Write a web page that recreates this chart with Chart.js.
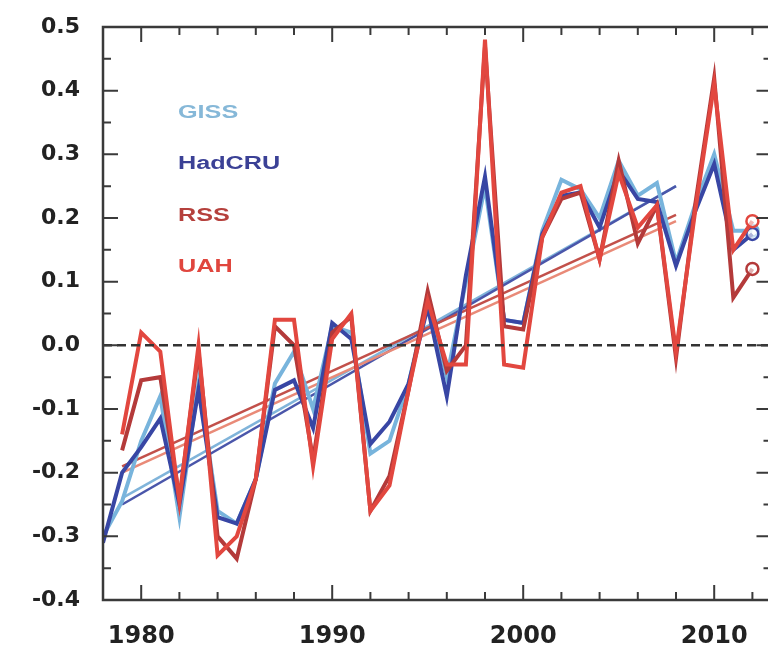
<!DOCTYPE html>
<html>
<head>
<meta charset="utf-8">
<script src="https://cdn.jsdelivr.net/npm/chart.js@4.4.0/dist/chart.umd.min.js"></script>
<style>
  html, body { margin: 0; padding: 0; background: #fff; overflow: hidden; }
  #wrap { width: 780px; height: 651px; }
</style>
</head>
<body>
<div id="wrap"><canvas id="chart"></canvas></div>
<script>
// Annual anomalies
const years = [1978, 1979, 1980, 1981, 1982, 1983, 1984, 1985, 1986, 1987, 1988, 1989,
  1990, 1991, 1992, 1993, 1994, 1995, 1996, 1997, 1998, 1999, 2000, 2001, 2002, 2003,
  2004, 2005, 2006, 2007, 2008, 2009, 2010, 2011, 2012];

const giss = [-0.30, -0.245, -0.15, -0.08, -0.27, -0.06, -0.26, -0.28, -0.21, -0.06, -0.01, -0.10,
  0.03, 0.02, -0.17, -0.15, -0.06, 0.07, -0.05, 0.10, 0.25, 0.04, 0.035, 0.18, 0.26, 0.245,
  0.20, 0.29, 0.235, 0.255, 0.13, 0.22, 0.30, 0.18, 0.18];

const hadcru = [-0.31, -0.20, -0.16, -0.115, -0.25, -0.07, -0.27, -0.28, -0.21, -0.07, -0.055, -0.13,
  0.035, 0.01, -0.155, -0.12, -0.06, 0.06, -0.08, 0.11, 0.265, 0.04, 0.035, 0.175, 0.235, 0.24,
  0.185, 0.275, 0.23, 0.225, 0.125, 0.21, 0.285, 0.15, 0.175];

const rss = [null, -0.165, -0.055, -0.05, -0.24, -0.01, -0.30, -0.335, -0.21, 0.03, 0.0, -0.18,
  0.02, 0.045, -0.26, -0.205, -0.07, 0.085, -0.04, 0.0, 0.47, 0.03, 0.025, 0.17, 0.23, 0.24,
  0.135, 0.29, 0.16, 0.22, -0.02, 0.22, 0.42, 0.075, 0.12];

const uah = [null, -0.14, 0.02, -0.01, -0.245, 0.0, -0.33, -0.30, -0.21, 0.04, 0.04, -0.19,
  0.01, 0.05, -0.26, -0.22, -0.07, 0.07, -0.03, -0.03, 0.48, -0.03, -0.035, 0.17, 0.24, 0.25,
  0.135, 0.27, 0.185, 0.22, -0.01, 0.21, 0.41, 0.15, 0.195];

// 1979-2008 trend lines (end points)
const trendYears = [1979, 2008];
const gissTrend = [-0.24, 0.25];
const hadcruTrend = [-0.25, 0.25];
const rssTrend = [-0.19, 0.205];
const uahTrend = [-0.20, 0.195];

const seriesNames = ['GISS', 'HadCRU', 'RSS', 'UAH'];
const xTickYears = [1980, 1990, 2000, 2010];
const yTickValues = [-0.4, -0.3, -0.2, -0.1, 0.0, 0.1, 0.2, 0.3, 0.4, 0.5];

const colors = {
    giss: '#78b4dc',
    hadcru: '#3846a4',
    rss: '#b43a3a',
    uah: '#e2473f'
};
const legendColors = ['#86b8d8', '#3b4196', '#b5403c', '#e0463e'];

function toPoints(xs, ys) {
    return xs.map((x, i) => ({ x: x, y: ys[i] }));
}

function series(label, values, color, order) {
    return {
        label: label,
        data: toPoints(years, values),
        borderColor: color,
        backgroundColor: color,
        borderWidth: 4,
        borderJoinStyle: 'miter',
        pointRadius: ctx => ctx.dataIndex === years.length - 1 ? 6 : 0,
        pointBorderWidth: 2.5,
        pointBorderColor: color,
        pointBackgroundColor: 'rgba(255,255,255,0.6)',
        order: order
    };
}

function trend(label, values, color, order) {
    return {
        label: label,
        data: toPoints(trendYears, values),
        borderColor: color,
        borderWidth: 2.5,
        pointRadius: 0,
        order: order
    };
}

// Frame round the plot with inward ticks on all four sides
const frameTicks = {
    id: 'frameTicks',
    afterDatasetsDraw(chart) {
        const { ctx, chartArea: a, scales: { x, y } } = chart;
        ctx.save();
        ctx.strokeStyle = '#3a3a3a';
        ctx.lineWidth = 2.5;
        ctx.strokeRect(a.left, a.top, a.right - a.left, a.bottom - a.top);
        ctx.lineWidth = 2;
        ctx.beginPath();
        for (let yr = Math.ceil(x.min); yr <= x.max; yr++) {
            if (yr % 2 !== 0) continue;
            const len = yr % 10 === 0 ? 15 : 8;
            const px = x.getPixelForValue(yr);
            ctx.moveTo(px, a.bottom); ctx.lineTo(px, a.bottom - len);
            ctx.moveTo(px, a.top); ctx.lineTo(px, a.top + len);
        }
        for (let k = 0; k <= 18; k++) {
            const v = y.min + k * 0.05;
            const len = k % 2 === 0 ? 15 : 8;
            const py = y.getPixelForValue(v);
            ctx.moveTo(a.left, py); ctx.lineTo(a.left + len, py);
            ctx.moveTo(a.right, py); ctx.lineTo(a.right - len, py);
        }
        ctx.stroke();
        ctx.restore();
    },
    afterDraw(chart) {
        // Coloured series names in the upper left
        const { ctx, chartArea: a } = chart;
        ctx.save();
        ctx.font = 'bold 18px "Liberation Sans", Arial, sans-serif';
        ctx.textBaseline = 'middle';
        seriesNames.forEach((name, i) => {
            ctx.save();
            ctx.translate(a.left + 75, a.top + 86 + i * 51.5);
            ctx.scale(1.4, 1);
            ctx.fillStyle = legendColors[i];
            ctx.fillText(name, 0, 0);
            ctx.restore();
        });
        ctx.restore();
    }
};

const ctx = document.getElementById('chart').getContext('2d');
new Chart(ctx, {
    type: 'line',
    data: {
        datasets: [
            {
                label: 'zero',
                data: [{ x: 1978, y: 0 }, { x: 2013, y: 0 }],
                borderColor: '#333',
                borderWidth: 2.5,
                borderDash: [9, 5],
                pointRadius: 0,
                order: 0
            },
            series('UAH', uah, colors.uah, 1),
            series('RSS', rss, colors.rss, 2),
            series('HadCRU', hadcru, colors.hadcru, 3),
            series('GISS', giss, colors.giss, 4),
            trend('UAH trend', uahTrend, '#e98a78', 5),
            trend('RSS trend', rssTrend, '#c2504a', 6),
            trend('HadCRU trend', hadcruTrend, '#4a56aa', 7),
            trend('GISS trend', gissTrend, '#80b4da', 8)
        ]
    },
    options: {
        responsive: true,
        maintainAspectRatio: false,
        animation: false,
        layout: { padding: { left: 32, right: 6, top: 27, bottom: 0 } },
        plugins: {
            legend: { display: false },
            tooltip: { enabled: false }
        },
        scales: {
            x: {
                type: 'linear',
                min: 1978,
                max: 2013,
                grid: { display: false, drawTicks: false },
                border: { display: false },
                afterBuildTicks: s => { s.ticks = xTickYears.map(v => ({ value: v })); },
                afterFit: s => { s.height = 51; s.paddingLeft = 0; s.paddingRight = 0; },
                ticks: {
                    padding: 22,
                    color: '#222',
                    maxRotation: 0,
                    font: { family: '"DejaVu Sans"', size: 24, weight: 'bold' },
                    callback: v => String(v)
                }
            },
            y: {
                min: -0.4,
                max: 0.5,
                grid: { display: false, drawTicks: false },
                border: { display: false },
                afterBuildTicks: s => { s.ticks = yTickValues.map(v => ({ value: v })); },
                afterFit: s => { s.width = 71; s.paddingTop = 0; s.paddingBottom = 0; },
                ticks: {
                    padding: 23,
                    color: '#222',
                    font: { family: '"DejaVu Sans"', size: 22, weight: 'bold' },
                    callback: v => v.toFixed(1)
                }
            }
        }
    },
    plugins: [frameTicks]
});
</script>
</body>
</html>
